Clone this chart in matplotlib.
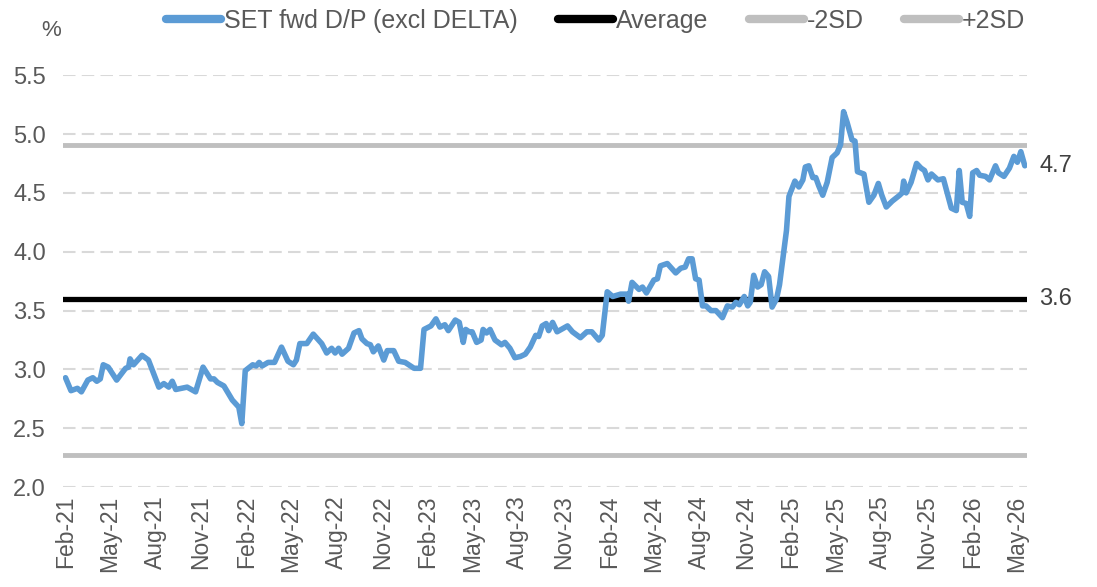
import matplotlib
matplotlib.use("Agg")
import matplotlib.pyplot as plt
import matplotlib.dates as mdates
import matplotlib.transforms as mtransforms
import pandas as pd

# *****************************************************************
# Daten

dates = [
    "2021-02-01", "2021-02-12", "2021-02-25", "2021-03-05", "2021-03-18", "2021-03-28",
    "2021-04-05", "2021-04-12", "2021-04-18", "2021-04-28", "2021-05-15", "2021-06-02",
    "2021-06-08", "2021-06-11", "2021-06-18", "2021-07-05", "2021-07-18", "2021-08-08",
    "2021-08-18", "2021-08-28", "2021-09-04", "2021-09-11", "2021-10-04", "2021-10-21",
    "2021-11-05", "2021-11-20", "2021-11-27", "2021-12-04", "2021-12-17", "2022-01-03",
    "2022-01-16", "2022-01-22", "2022-01-29", "2022-02-13", "2022-02-20", "2022-02-26",
    "2022-03-04", "2022-03-16", "2022-03-29", "2022-04-12", "2022-04-25", "2022-05-06",
    "2022-05-12", "2022-05-19", "2022-06-02", "2022-06-15", "2022-07-02", "2022-07-12",
    "2022-07-22", "2022-07-29", "2022-08-05", "2022-08-12", "2022-08-25", "2022-09-05",
    "2022-09-15", "2022-09-21", "2022-10-01", "2022-10-08", "2022-10-14", "2022-10-24",
    "2022-11-04", "2022-11-11", "2022-11-24", "2022-12-04", "2022-12-17", "2023-01-04",
    "2023-01-17", "2023-01-24", "2023-02-07", "2023-02-17", "2023-02-25", "2023-03-07",
    "2023-03-14", "2023-03-28", "2023-04-05", "2023-04-13", "2023-04-18", "2023-04-25",
    "2023-05-01", "2023-05-10", "2023-05-19", "2023-05-23", "2023-05-30", "2023-06-06",
    "2023-06-16", "2023-06-29", "2023-07-06", "2023-07-16", "2023-07-26", "2023-08-06",
    "2023-08-16", "2023-08-26", "2023-09-06", "2023-09-12", "2023-09-19", "2023-09-27",
    "2023-10-02", "2023-10-10", "2023-10-19", "2023-11-09", "2023-11-19", "2023-12-05",
    "2023-12-18", "2023-12-28", "2024-01-11", "2024-01-18", "2024-01-28", "2024-02-08",
    "2024-02-24", "2024-03-08", "2024-03-11", "2024-03-18", "2024-04-01", "2024-04-08",
    "2024-04-16", "2024-05-01", "2024-05-08", "2024-05-14", "2024-05-28", "2024-06-14",
    "2024-06-24", "2024-07-03", "2024-07-10", "2024-07-17", "2024-07-24", "2024-07-31",
    "2024-08-07", "2024-08-14", "2024-08-24", "2024-09-03", "2024-09-16", "2024-09-26",
    "2024-10-06", "2024-10-13", "2024-10-20", "2024-10-30", "2024-11-06", "2024-11-11",
    "2024-11-18", "2024-11-26", "2024-12-03", "2024-12-10", "2024-12-18", "2024-12-25",
    "2025-01-03", "2025-01-09", "2025-01-23", "2025-01-28", "2025-02-09", "2025-02-17",
    "2025-02-25", "2025-03-02", "2025-03-09", "2025-03-17", "2025-03-23", "2025-03-29",
    "2025-04-06", "2025-04-15", "2025-04-25", "2025-05-05", "2025-05-12", "2025-05-18",
    "2025-05-25", "2025-06-04", "2025-06-10", "2025-06-15", "2025-06-28", "2025-07-08",
    "2025-07-18", "2025-07-27", "2025-08-03", "2025-08-12", "2025-08-24", "2025-09-08",
    "2025-09-13", "2025-09-16", "2025-09-21", "2025-10-01", "2025-10-12", "2025-10-21",
    "2025-10-28", "2025-11-04", "2025-11-11", "2025-11-24", "2025-12-05", "2025-12-21",
    "2025-12-31", "2026-01-06", "2026-01-12", "2026-01-20", "2026-01-27", "2026-02-02",
    "2026-02-10", "2026-02-16", "2026-02-28", "2026-03-08", "2026-03-20", "2026-03-26",
    "2026-04-06", "2026-04-17", "2026-04-26", "2026-05-03", "2026-05-10", "2026-05-18",
]

dp_yield = [
    2.93, 2.82, 2.84, 2.81, 2.91, 2.93,
    2.90, 2.92, 3.04, 3.02, 2.91, 3.01,
    3.02, 3.09, 3.04, 3.12, 3.08, 2.85,
    2.88, 2.85, 2.90, 2.83, 2.85, 2.81,
    3.02, 2.92, 2.92, 2.89, 2.86, 2.74,
    2.68, 2.54, 2.99, 3.04, 3.03, 3.06,
    3.03, 3.06, 3.06, 3.19, 3.07, 3.04,
    3.08, 3.22, 3.22, 3.30, 3.22, 3.14,
    3.18, 3.14, 3.18, 3.13, 3.18, 3.31,
    3.33, 3.26, 3.22, 3.21, 3.15, 3.20,
    3.08, 3.16, 3.16, 3.07, 3.06, 3.01,
    3.01, 3.34, 3.37, 3.43, 3.36, 3.38,
    3.33, 3.42, 3.40, 3.23, 3.34, 3.32,
    3.32, 3.23, 3.25, 3.34, 3.31, 3.34,
    3.25, 3.21, 3.23, 3.18, 3.10, 3.11,
    3.13, 3.19, 3.29, 3.28, 3.37, 3.39,
    3.33, 3.40, 3.32, 3.37, 3.32, 3.27,
    3.32, 3.32, 3.25, 3.29, 3.66, 3.62,
    3.64, 3.64, 3.58, 3.74, 3.68, 3.70,
    3.65, 3.76, 3.77, 3.88, 3.90, 3.82,
    3.86, 3.87, 3.94, 3.94, 3.77, 3.76,
    3.54, 3.54, 3.50, 3.50, 3.44, 3.54,
    3.53, 3.57, 3.55, 3.62, 3.54, 3.57,
    3.80, 3.70, 3.72, 3.83, 3.79, 3.53,
    3.60, 3.72, 4.18, 4.47, 4.60, 4.55,
    4.61, 4.72, 4.73, 4.63, 4.63, 4.56,
    4.48, 4.59, 4.80, 4.84, 4.91, 5.19,
    5.10, 4.95, 4.94, 4.68, 4.66, 4.42,
    4.48, 4.58, 4.48, 4.38, 4.43, 4.48,
    4.50, 4.60, 4.50, 4.59, 4.75, 4.71,
    4.69, 4.61, 4.66, 4.61, 4.62, 4.37,
    4.35, 4.69, 4.42, 4.41, 4.30, 4.67,
    4.69, 4.65, 4.64, 4.61, 4.73, 4.67,
    4.64, 4.71, 4.81, 4.76, 4.85, 4.73,
]

average = 3.6
minus_2sd = 2.27
plus_2sd = 4.91

series_labels = ["SET fwd D/P (excl DELTA)", "Average", "-2SD", "+2SD"]

# *****************************************************************
# Plot

x = pd.to_datetime(dates)

plt.rcParams['font.family'] = ['Liberation Sans', 'DejaVu Sans']
text_col = '#595959'

fig = plt.figure(figsize=(10.97, 5.87), dpi=100)
ax = fig.add_axes([0.057, 0.170, 0.879, 0.702])

ax.plot(x, dp_yield, color='#5B9BD5', lw=4, label=series_labels[0], zorder=4,
        solid_joinstyle='round', solid_capstyle='round')
ax.axhline(average, color='black', lw=3.8, label=series_labels[1], zorder=3)
ax.axhline(minus_2sd, color='#BFBFBF', lw=3.5, label=series_labels[2], zorder=3)
ax.axhline(plus_2sd, color='#BFBFBF', lw=3.5, label=series_labels[3], zorder=3)

# Achsen
ax.set_ylim(2.0, 5.5)
ax.set_yticks([2.0, 2.5, 3.0, 3.5, 4.0, 4.5, 5.0, 5.5])
ax.yaxis.set_major_formatter(plt.FormatStrFormatter('%.1f'))
ax.set_xlim(pd.Timestamp("2021-01-26"), pd.Timestamp("2026-05-22"))
ax.xaxis.set_major_locator(mdates.MonthLocator(bymonth=[2, 5, 8, 11]))
ax.xaxis.set_major_formatter(mdates.DateFormatter('%b-%y'))
plt.setp(ax.get_xticklabels(), rotation=90)
ax.tick_params(axis='x', length=0, labelsize=16.5, colors=text_col, pad=6)
ax.tick_params(axis='y', length=0, labelsize=17, colors=text_col, pad=12)

for s in ax.spines.values():
    s.set_visible(False)
ax.grid(axis='y', color='#D9D9D9', lw=1.5, linestyle=(0, (6, 3)))
ax.set_axisbelow(True)

# Beschriftung rechts
trans = mtransforms.blended_transform_factory(ax.transAxes, ax.transData)
ax.text(1.013, dp_yield[-1], "%.1f" % dp_yield[-1], transform=trans, fontsize=17,
        color='#404040', va='center', ha='left')
ax.text(1.013, average, "%.1f" % average, transform=trans, fontsize=17,
        color='#404040', va='center', ha='left')

fig.text(0.047, 0.948, "%", fontsize=16, color=text_col, ha='center', va='center')

leg = ax.legend(loc='center', bbox_to_anchor=(0.543, 0.965), bbox_transform=fig.transFigure,
                ncol=4, frameon=False, fontsize=18, handlelength=2.2, handletextpad=0.12,
                columnspacing=1.6)
for line in leg.get_lines():
    line.set_linewidth(6)
    line.set_solid_capstyle('round')
for t in leg.get_texts():
    t.set_color(text_col)

fig.savefig("out.png", dpi=100)
